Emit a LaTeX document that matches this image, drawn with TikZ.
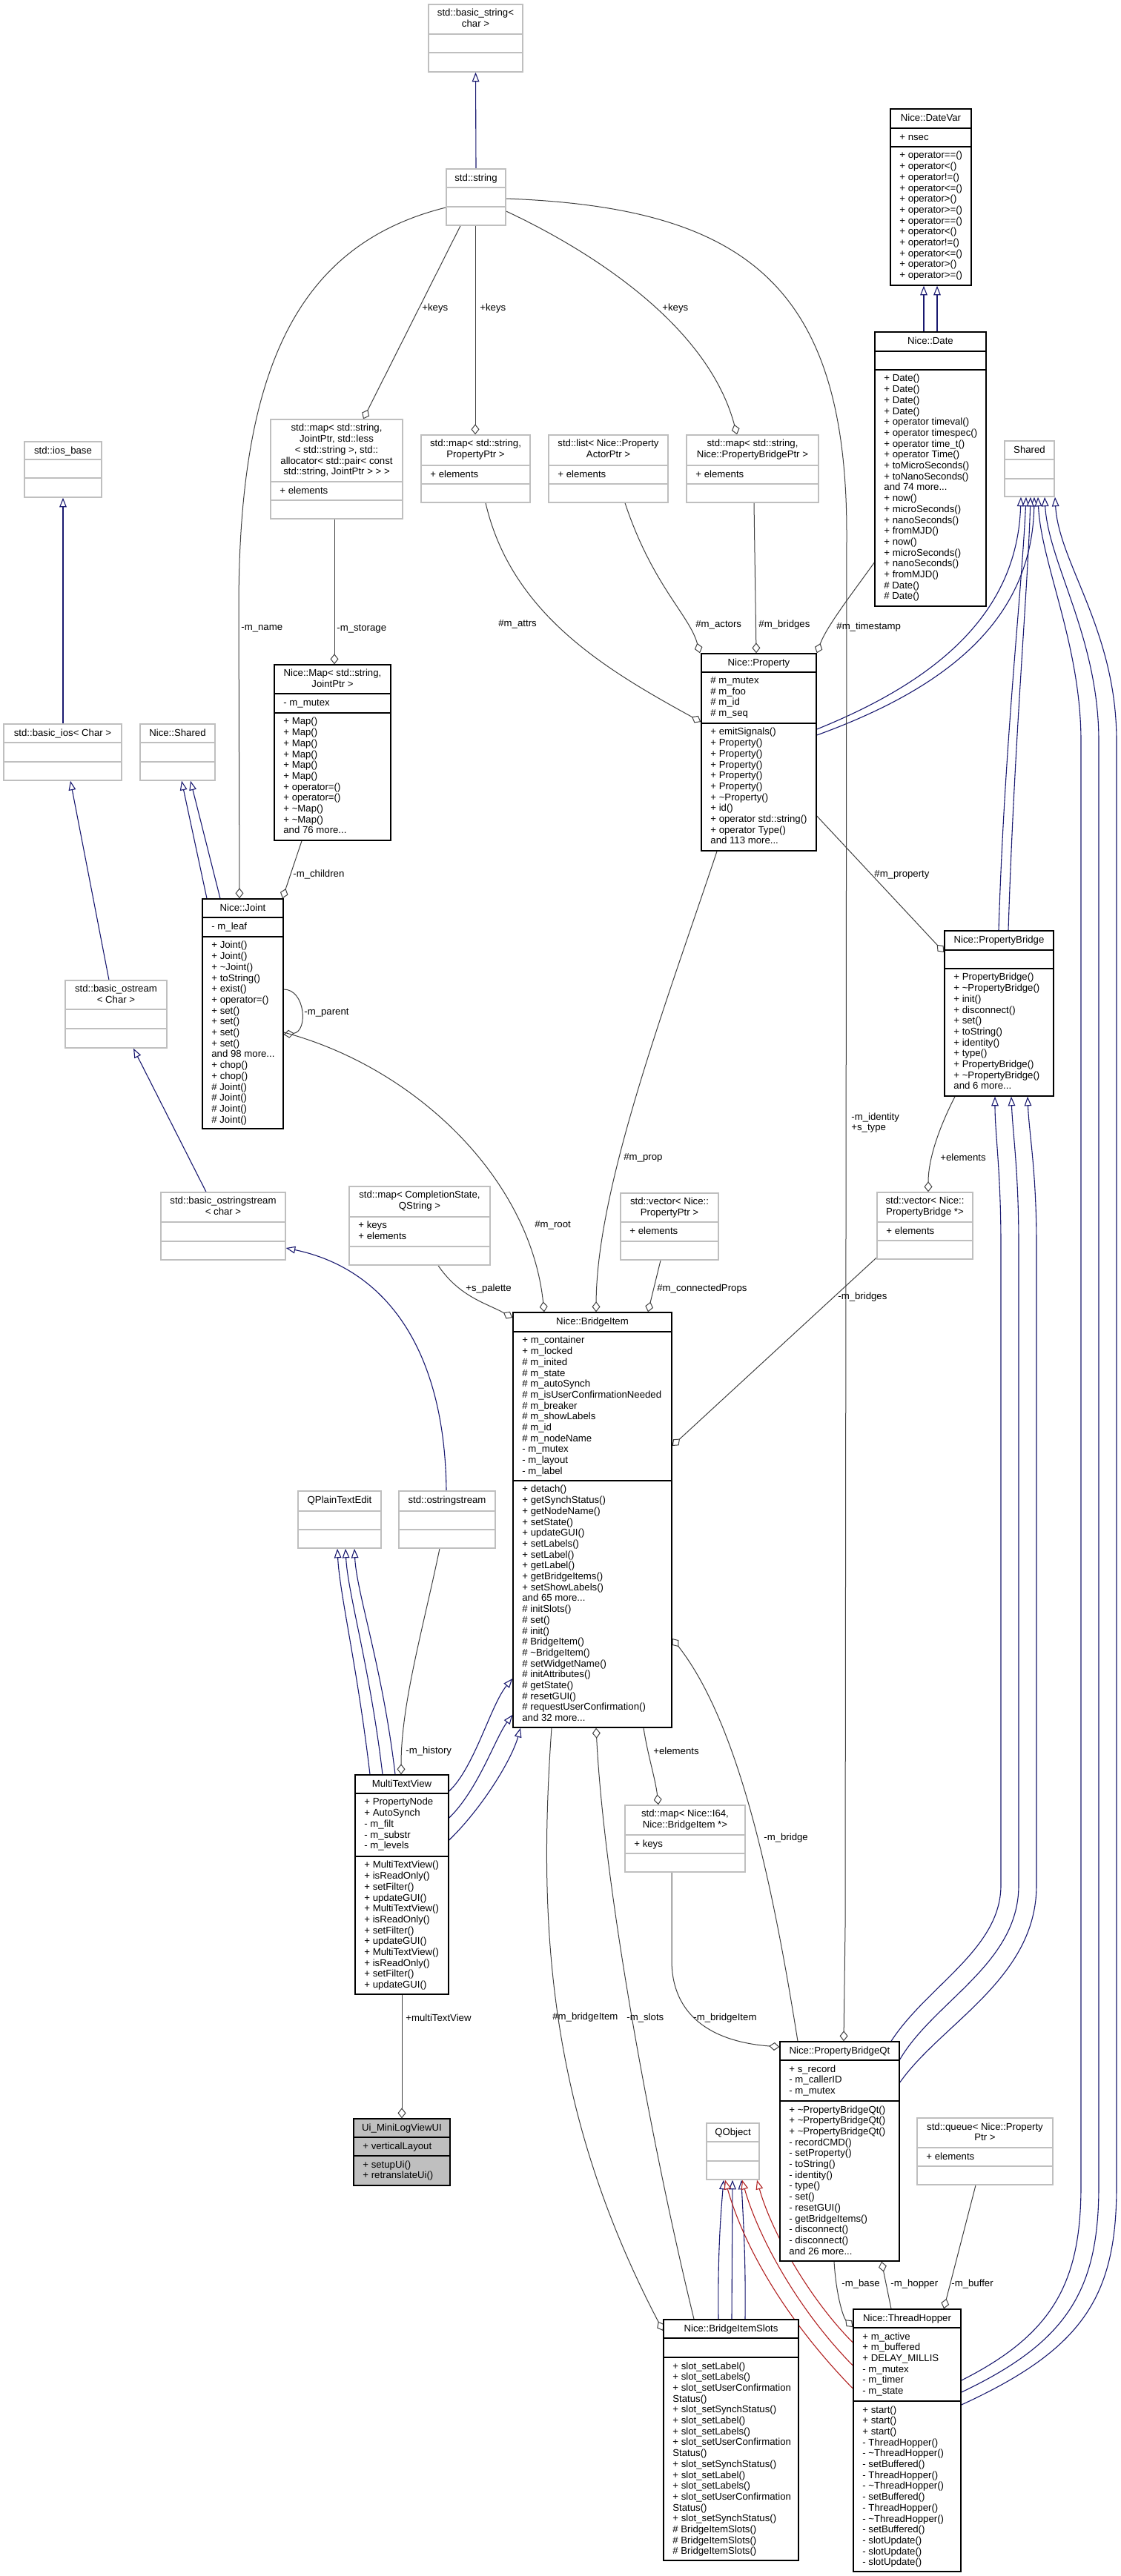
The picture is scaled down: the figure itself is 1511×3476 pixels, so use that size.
\documentclass[tikz,border=0pt]{standalone}
\usepackage{fontspec}
\setmainfont{Liberation Sans}
\usetikzlibrary{arrows.meta,fit,calc}
\definecolor{edc}{HTML}{404040}
\definecolor{inhc}{HTML}{191970}
\definecolor{tplc}{HTML}{B22222}
\definecolor{ugc}{HTML}{BFBFBF}
\newcommand\dxf{\fontsize{6.6}{7.35}\selectfont}
\newcommand\tld{\textasciitilde}
\pgfdeclarelayer{bgl}
\pgfsetlayers{bgl,main}
\newcommand\cls[9]{%
  \node[fit={(#3,#4) (#5,#6)}, inner sep=0pt, #2] (#1) {};
  \draw[#2] (#3,#7) -- (#5,#7) (#3,#8) -- (#5,#8);
  \node[ttl] (#1-t) at ({(#3+#5)/2},#4+6) {#9};
  \gdef\clsx{#3}\gdef\clsa{#7}\gdef\clsb{#8}\gdef\clsn{#1}}
\newcommand\atr[1]{\node[lst] (\clsn-a) at (\clsx+12,\clsa+6) {#1};}
\newcommand\mth[1]{\node[lst] (\clsn-m) at (\clsx+12,\clsb+6) {#1};}
\begin{document}
\begin{tikzpicture}[x=0.5pt,y=-0.5pt,
  doc/.style={draw=black, line width=0.7pt, fill=white},
  und/.style={draw=ugc, line width=0.7pt, fill=white},
  uig/.style={draw=black, line width=0.7pt, fill=ugc},
  ttl/.style={font=\dxf, align=center, anchor=north, inner sep=0pt, execute at begin node=\strut},
  lst/.style={font=\dxf, align=left, anchor=north west, inner sep=0pt, execute at begin node=\strut},
  lbl/.style={font=\dxf, align=left, anchor=west, inner sep=0pt},
  use/.style={draw=edc, line width=0.5pt, -{Diamond[fill=white,length=7pt,width=5.5pt]}},
  inh/.style={draw=inhc, line width=0.55pt, -{Triangle[fill=white,length=6.3pt,width=4.8pt]}},
  tpl/.style={draw=tplc, line width=0.55pt, -{Triangle[fill=white,length=6.3pt,width=4.8pt]}}]
\useasboundingbox (0,0) rectangle (1511,3476);

% ---------------- classes ----------------
\cls{bstr}{und}{578}{6}{705}{97}{46}{71}{std::basic\_string<\\char >}
\cls{str}{und}{602}{228}{682}{304}{253}{279}{std::string}
\cls{dvar}{doc}{1201}{147}{1310}{385}{173}{198}{Nice::DateVar}
\atr{+ nsec}
\mth{+ operator==()\\+ operator<()\\+ operator!=()\\+ operator<=()\\+ operator>()\\+ operator>=()\\+ operator==()\\+ operator<()\\+ operator!=()\\+ operator<=()\\+ operator>()\\+ operator>=()}
\cls{date}{doc}{1180}{448}{1330}{818}{474}{499}{Nice::Date}
\mth{+ Date()\\+ Date()\\+ Date()\\+ Date()\\+ operator timeval()\\+ operator timespec()\\+ operator time\_t()\\+ operator Time()\\+ toMicroSeconds()\\+ toNanoSeconds()\\and 74 more...\\+ now()\\+ microSeconds()\\+ nanoSeconds()\\+ fromMJD()\\+ now()\\+ microSeconds()\\+ nanoSeconds()\\+ fromMJD()\\\# Date()\\\# Date()}
\cls{shr}{und}{1355}{595}{1422}{670}{620}{646}{Shared}
\cls{mjp}{und}{365}{566}{543}{700}{650}{675}{std::map< std::string,\\ JointPtr, std::less\\< std::string >, std::\\allocator< std::pair< const\\ std::string, JointPtr > > >}
\atr{+ elements}
\cls{mpp}{und}{568}{587}{715}{678}{628}{653}{std::map< std::string,\\PropertyPtr >}
\atr{+ elements}
\cls{plst}{und}{740}{587}{901}{678}{628}{653}{std::list< Nice::Property\\ActorPtr >}
\atr{+ elements}
\cls{mpb}{und}{926}{587}{1104}{678}{628}{653}{std::map< std::string,\\Nice::PropertyBridgePtr >}
\atr{+ elements}
\cls{iosb}{und}{33}{596}{137}{671}{620}{645}{std::ios\_base}
\cls{bios}{und}{5}{977}{164}{1053}{1002}{1028}{std::basic\_ios< Char >}
\cls{nshr}{und}{189}{977}{290}{1053}{1002}{1028}{Nice::Shared}
\cls{bost}{und}{88}{1323}{225}{1414}{1362}{1388}{std::basic\_ostream\\< Char >}
\cls{bosts}{und}{217}{1609}{385}{1700}{1649}{1675}{std::basic\_ostringstream\\< char >}
\cls{nmap}{doc}{370}{897}{527}{1134}{936}{962}{Nice::Map< std::string,\\JointPtr >}
\atr{- m\_mutex}
\mth{+ Map()\\+ Map()\\+ Map()\\+ Map()\\+ Map()\\+ Map()\\+ operator=()\\+ operator=()\\+ \tld{}Map()\\+ \tld{}Map()\\and 76 more...}
\cls{joint}{doc}{273}{1213}{382}{1523}{1238}{1264}{Nice::Joint}
\atr{- m\_leaf}
\mth{+ Joint()\\+ Joint()\\+ \tld{}Joint()\\+ toString()\\+ exist()\\+ operator=()\\+ set()\\+ set()\\+ set()\\+ set()\\and 98 more...\\+ chop()\\+ chop()\\\# Joint()\\\# Joint()\\\# Joint()\\\# Joint()}
\cls{prop}{doc}{946}{882}{1101}{1148}{907}{976}{Nice::Property}
\atr{\# m\_mutex\\\# m\_foo\\\# m\_id\\\# m\_seq}
\mth{+ emitSignals()\\+ Property()\\+ Property()\\+ Property()\\+ Property()\\+ Property()\\+ \tld{}Property()\\+ id()\\+ operator std::string()\\+ operator Type()\\and 113 more...}
\cls{pb}{doc}{1274}{1256}{1421}{1479}{1282}{1307}{Nice::PropertyBridge}
\mth{+ PropertyBridge()\\+ \tld{}PropertyBridge()\\+ init()\\+ disconnect()\\+ set()\\+ toString()\\+ identity()\\+ type()\\+ PropertyBridge()\\+ \tld{}PropertyBridge()\\and 6 more...}
\cls{vpb}{und}{1183}{1609}{1312}{1699}{1649}{1674}{std::vector< Nice::\\PropertyBridge *>}
\atr{+ elements}
\cls{mcs}{und}{471}{1601}{661}{1707}{1642}{1682}{std::map< CompletionState,\\QString >}
\atr{+ keys\\+ elements}
\cls{vpp}{und}{837}{1610}{969}{1700}{1649}{1675}{std::vector< Nice::\\PropertyPtr >}
\atr{+ elements}
\cls{bi}{doc}{692}{1771}{906}{2331}{1797}{1998}{Nice::BridgeItem}
\atr{+ m\_container\\+ m\_locked\\\# m\_inited\\\# m\_state\\\# m\_autoSynch\\\# m\_isUserConfirmationNeeded\\\# m\_breaker\\\# m\_showLabels\\\# m\_id\\\# m\_nodeName\\- m\_mutex\\- m\_layout\\- m\_label}
\mth{+ detach()\\+ getSynchStatus()\\+ getNodeName()\\+ setState()\\+ updateGUI()\\+ setLabels()\\+ setLabel()\\+ getLabel()\\+ getBridgeItems()\\+ setShowLabels()\\and 65 more...\\\# initSlots()\\\# set()\\\# init()\\\# BridgeItem()\\\# \tld{}BridgeItem()\\\# setWidgetName()\\\# initAttributes()\\\# getState()\\\# resetGUI()\\\# requestUserConfirmation()\\and 32 more...}
\cls{qpte}{und}{402}{2012}{514}{2089}{2039}{2064}{QPlainTextEdit}
\cls{ostr}{und}{538}{2012}{668}{2089}{2039}{2064}{std::ostringstream}
\cls{mtv}{doc}{479}{2395}{605}{2691}{2420}{2505}{MultiTextView}
\atr{+ PropertyNode\\+ AutoSynch\\- m\_filt\\- m\_substr\\- m\_levels}
\mth{+ MultiTextView()\\+ isReadOnly()\\+ setFilter()\\+ updateGUI()\\+ MultiTextView()\\+ isReadOnly()\\+ setFilter()\\+ updateGUI()\\+ MultiTextView()\\+ isReadOnly()\\+ setFilter()\\+ updateGUI()}
\cls{ui}{uig}{477}{2859}{607}{2949}{2884}{2909}{Ui\_MiniLogViewUI}
\atr{+ verticalLayout}
\mth{+ setupUi()\\+ retranslateUi()}
\cls{mib}{und}{843}{2436}{1005}{2526}{2476}{2501}{std::map< Nice::I64,\\Nice::BridgeItem *>}
\atr{+ keys}
\cls{pbqt}{doc}{1052}{2755}{1213}{3051}{2780}{2835}{Nice::PropertyBridgeQt}
\atr{+ s\_record\\- m\_callerID\\- m\_mutex}
\mth{+ \tld{}PropertyBridgeQt()\\+ \tld{}PropertyBridgeQt()\\+ \tld{}PropertyBridgeQt()\\- recordCMD()\\- setProperty()\\- toString()\\- identity()\\- type()\\- set()\\- resetGUI()\\- getBridgeItems()\\- disconnect()\\- disconnect()\\and 26 more...}
\cls{qobj}{und}{953}{2865}{1024}{2941}{2890}{2916}{QObject}
\cls{bis}{doc}{895}{3130}{1077}{3455}{3155}{3181}{Nice::BridgeItemSlots}
\mth{+ slot\_setLabel()\\+ slot\_setLabels()\\+ slot\_setUserConfirmation\\Status()\\+ slot\_setSynchStatus()\\+ slot\_setLabel()\\+ slot\_setLabels()\\+ slot\_setUserConfirmation\\Status()\\+ slot\_setSynchStatus()\\+ slot\_setLabel()\\+ slot\_setLabels()\\+ slot\_setUserConfirmation\\Status()\\+ slot\_setSynchStatus()\\\# BridgeItemSlots()\\\# BridgeItemSlots()\\\# BridgeItemSlots()}
\cls{th}{doc}{1151}{3116}{1296}{3470}{3141}{3240}{Nice::ThreadHopper}
\atr{+ m\_active\\+ m\_buffered\\+ DELAY\_MILLIS\\- m\_mutex\\- m\_timer\\- m\_state}
\mth{+ start()\\+ start()\\+ start()\\- ThreadHopper()\\- \tld{}ThreadHopper()\\- setBuffered()\\- ThreadHopper()\\- \tld{}ThreadHopper()\\- setBuffered()\\- ThreadHopper()\\- \tld{}ThreadHopper()\\- setBuffered()\\- slotUpdate()\\- slotUpdate()\\- slotUpdate()}
\cls{que}{und}{1237}{2858}{1420}{2948}{2898}{2923}{std::queue< Nice::Property\\Ptr >}
\atr{+ elements}

% ---------------- connectors ----------------
\begin{pgfonlayer}{bgl}
\fill[white] (0,0) rectangle (1511,3476);
% inheritance
\draw[inh] (str.north) -- (bstr.south);
\draw[inh] (date.north -| 1246,0) -- (dvar.south -| 1246,0);
\draw[inh] (date.north -| 1264,0) -- (dvar.south -| 1264,0);
\draw[inh] (bios.north -| 85,0) -- (iosb.south -| 85,0);
\draw[inh] (bost.north -| 147,0) -- (bios.south -| 95,0);
\draw[inh] (bosts.north -| 278,0) -- (bost.south -| 180,0);
\draw[inh] (joint.north -| 279,0) -- (nshr.south -| 245,0);
\draw[inh] (joint.north -| 297,0) -- (nshr.south -| 257,0);
\draw[inh] (ostr.north -| 602,0) .. controls (600,1820) and (520,1712) .. (bosts.east |- 0,1684);
\draw[inh] (mtv.north -| 499,0) .. controls (482,2250) and (458,2150) .. (qpte.south -| 455,0);
\draw[inh] (mtv.north -| 516,0) .. controls (499,2250) and (469,2150) .. (qpte.south -| 466,0);
\draw[inh] (mtv.north -| 533,0) .. controls (516,2250) and (481,2150) .. (qpte.south -| 478,0);
\draw[inh] (mtv.east |- 0,2417) .. controls (640,2385) and (662,2300) .. (bi.west |- 0,2265);
\draw[inh] (mtv.east |- 0,2453) .. controls (645,2415) and (668,2345) .. (bi.west |- 0,2314);
\draw[inh] (mtv.east |- 0,2483) .. controls (650,2440) and (690,2375) .. (bi.south -| 702,0);
\draw[inh] (prop.east |- 0,984) .. controls (1260,920) and (1372,830) .. (shr.south -| 1377,0);
\draw[inh] (prop.east |- 0,992) .. controls (1272,930) and (1392,840) .. (shr.south -| 1395,0);
\draw[inh] (pb.north -| 1347,0) .. controls (1355,1000) and (1378,800) .. (shr.south -| 1384,0);
\draw[inh] (pb.north -| 1360,0) .. controls (1368,1000) and (1386,800) .. (shr.south -| 1390,0);
\draw[inh] (th.east |- 0,3212) .. controls (1420,3150) and (1458,3080) .. (1458,2950) -- (1458,1000) .. controls (1458,870) and (1404,760) .. (shr.south -| 1400,0);
\draw[inh] (th.east |- 0,3228) .. controls (1440,3160) and (1482,3090) .. (1482,2950) -- (1482,1000) .. controls (1482,860) and (1414,760) .. (shr.south -| 1409,0);
\draw[inh] (th.east |- 0,3245) .. controls (1460,3170) and (1506,3100) .. (1506,2950) -- (1506,1000) .. controls (1506,850) and (1428,760) .. (shr.south -| 1423,0);
\draw[inh] (pbqt.north -| 1202,0) .. controls (1250,2680) and (1350,2630) .. (1350,2544) -- (1350,1680) .. controls (1350,1580) and (1342,1530) .. (pb.south -| 1342,0);
\draw[inh] (pbqt.east |- 0,2779) .. controls (1260,2700) and (1374,2650) .. (1374,2544) -- (1374,1680) .. controls (1374,1580) and (1366,1530) .. (pb.south -| 1364,0);
\draw[inh] (pbqt.east |- 0,2810) .. controls (1270,2730) and (1398,2670) .. (1398,2544) -- (1398,1680) .. controls (1398,1580) and (1388,1530) .. (pb.south -| 1386,0);
\draw[inh] (bis.north -| 969,0) .. controls (968,3040) and (972,2990) .. (qobj.south -| 976,0);
\draw[inh] (bis.north -| 987,0) -- (qobj.south -| 988,0);
\draw[inh] (bis.north -| 1005,0) .. controls (1006,3040) and (1002,2990) .. (qobj.south -| 1000,0);
\draw[tpl] (th.west |- 0,3161) .. controls (1090,3100) and (1040,3010) .. (qobj.south -| 1021,0);
\draw[tpl] (th.west |- 0,3192) .. controls (1070,3110) and (1020,3010) .. (qobj.south -| 1001,0);
\draw[tpl] (th.west |- 0,3223) .. controls (1050,3120) and (1000,3020) .. (qobj.south -| 978,0);
% usage
\draw[use] (str.west |- 0,280) .. controls (400,330) and (322,500) .. (322,820) -- (joint.north -| 323,0);
\draw[use] (str.south -| 621,0) -- (mjp.north -| 490,0);
\draw[use] (str.south -| 641,0) -- (mpp.north -| 641,0);
\draw[use] (str.east |- 0,285) .. controls (800,340) and (955,440) .. (mpb.north -| 994,0);
\draw[use] (str.east |- 0,268) .. controls (1000,280) and (1142,380) .. (1142,720) -- (1140,2600) -- (pbqt.north -| 1138,0);
\draw[use] (mjp.south -| 451,0) -- (nmap.north -| 451,0);
\draw[use] (nmap.south -| 407,0) -- (joint.north -| 381,0);
\draw[use] (joint.east |- 0,1335) .. controls (412,1335) and (416,1392) .. (joint.east |- 0,1396);
\draw[use] (joint.east |- 0,1393) .. controls (560,1440) and (715,1590) .. (bi.north -| 734,0);
\draw[use] (mpp.south -| 655,0) .. controls (690,830) and (820,905) .. (prop.west |- 0,974);
\draw[use] (plst.south -| 843,0) .. controls (880,790) and (930,830) .. (prop.north -| 944,0);
\draw[use] (mpb.south -| 1017,0) -- (prop.north -| 1020,0);
\draw[use] (date.west |- 0,759) .. controls (1150,800) and (1115,845) .. (prop.north east);
\draw[use] (prop.east |- 0,1101) -- (pb.west |- 0,1285);
\draw[use] (pb.south -| 1288,0) .. controls (1270,1515) and (1252,1560) .. (vpb.north -| 1252,0);
\draw[use] (vpb.west |- 0,1697) -- (bi.east |- 0,1951);
\draw[use] (mcs.south -| 591,0) .. controls (620,1750) and (655,1758) .. (bi.west |- 0,1778);
\draw[use] (prop.south -| 967,0) .. controls (900,1350) and (805,1600) .. (bi.north -| 804,0);
\draw[use] (vpp.south -| 891,0) -- (bi.north -| 874,0);
\draw[use] (ostr.south -| 593,0) .. controls (570,2200) and (541,2300) .. (mtv.north -| 541,0);
\draw[use] (mtv.south -| 542,0) -- (ui.north -| 542,0);
\draw[use] (pbqt.north -| 1076,0) .. controls (1045,2560) and (1000,2330) .. (bi.east |- 0,2211);
\draw[use] (bi.south -| 868,0) .. controls (874,2370) and (884,2400) .. (mib.north -| 888,0);
\draw[use] (bi.south -| 744,0) .. controls (725,2600) and (740,2850) .. (bis.west |- 0,3145);
\draw[use] (bis.north -| 936,0) .. controls (880,2900) and (815,2550) .. (bi.south -| 804,0);
\draw[use] (mib.south -| 906,0) -- (906,2645) .. controls (906,2720) and (960,2755) .. (pbqt.west |- 0,2762);
\draw[use] (pbqt.south -| 1125,0) .. controls (1128,3100) and (1138,3128) .. (th.west |- 0,3140);
\draw[use] (th.north -| 1202,0) -- (pbqt.south -| 1189,0);
\draw[use] (que.south -| 1316,0) -- (th.north -| 1273,0);
\end{pgfonlayer}

% ---------------- connector labels ----------------
\node[lbl] (l1) at (325,848) {-m\_name};
\node[lbl] (l2) at (569,416) {+keys};
\node[lbl] (l3) at (647,416) {+keys};
\node[lbl] (l4) at (893,416) {+keys};
\node[lbl] (l5) at (1148,1515) {-m\_identity\\+s\_type};
\node[lbl] (l6) at (454,849) {-m\_storage};
\node[lbl] (l7) at (395,1180) {-m\_children};
\node[lbl] (l8) at (410,1367) {-m\_parent};
\node[lbl] (l9) at (721,1653) {\#m\_root};
\node[lbl] (l10) at (672,842) {\#m\_attrs};
\node[lbl] (l11) at (938,843) {\#m\_actors};
\node[lbl] (l12) at (1023,843) {\#m\_bridges};
\node[lbl] (l13) at (1128,846) {\#m\_timestamp};
\node[lbl] (l14) at (1179,1180) {\#m\_property};
\node[lbl] (l15) at (1268,1562) {+elements};
\node[lbl] (l16) at (1130,1750) {-m\_bridges};
\node[lbl] (l17) at (628,1739) {+s\_palette};
\node[lbl] (l18) at (841,1562) {\#m\_prop};
\node[lbl] (l19) at (886,1739) {\#m\_connectedProps};
\node[lbl] (l20) at (547,2363) {-m\_history};
\node[lbl] (l21) at (547,2723) {+multiTextView};
\node[lbl] (l22) at (1030,2480) {-m\_bridge};
\node[lbl] (l23) at (881,2363) {+elements};
\node[lbl] (l24) at (745,2722) {\#m\_bridgeItem};
\node[lbl] (l25) at (845,2723) {-m\_slots};
\node[lbl] (l26) at (935,2723) {-m\_bridgeItem};
\node[lbl] (l27) at (1135,3082) {-m\_base};
\node[lbl] (l28) at (1201,3082) {-m\_hopper};
\node[lbl] (l29) at (1283,3082) {-m\_buffer};
\end{tikzpicture}
\end{document}
